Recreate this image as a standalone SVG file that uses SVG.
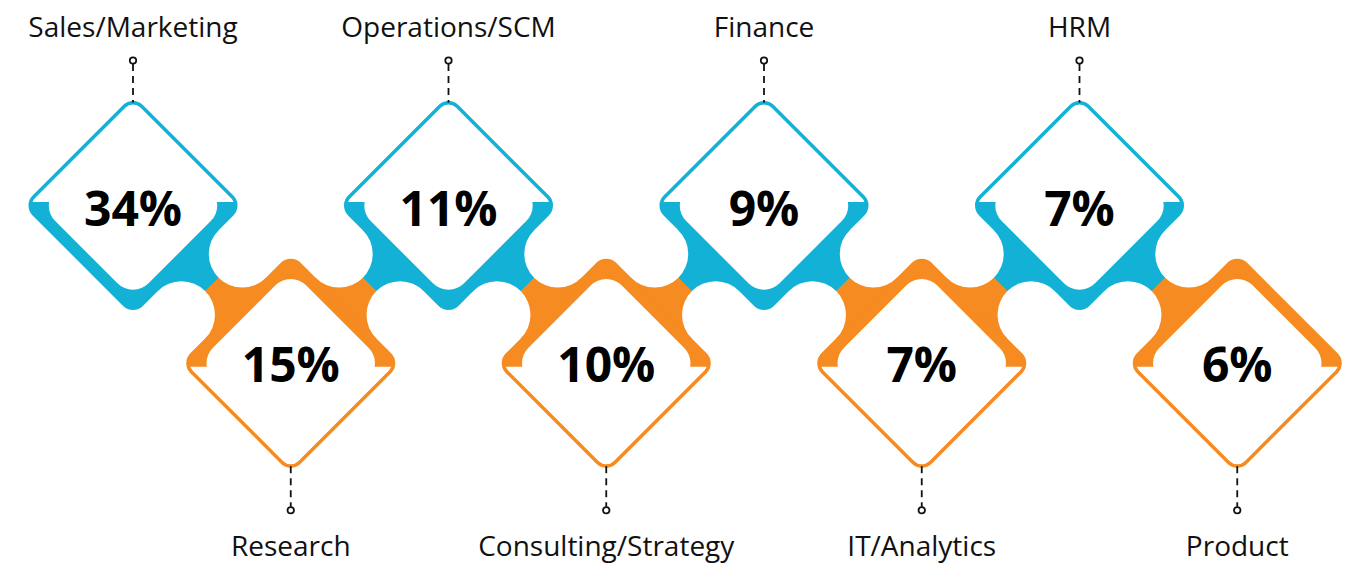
<svg xmlns="http://www.w3.org/2000/svg" xmlns:xlink="http://www.w3.org/1999/xlink" width="1351" height="564" viewBox="0 0 1351 564">
<style>
.blue{fill:#14B1D7}
.orange{fill:#F68B21}
.white{fill:#FFFFFF}
.pct{font-family:"Open Sans","Noto Sans","Liberation Sans",sans-serif;font-weight:700;font-size:48px;fill:#000;text-anchor:middle}
.lbl{font-family:"Open Sans","Noto Sans","Liberation Sans",sans-serif;font-size:28px;fill:#111;text-anchor:middle}
.dash{stroke:#111;stroke-width:1.8;stroke-dasharray:7 5;fill:none}
.pin{fill:#fff;stroke:#111;stroke-width:1.8}
</style>
<defs>
<clipPath id="clipUp" clipPathUnits="userSpaceOnUse"><rect x="-200" y="-200" width="400" height="196.5"/></clipPath>
<clipPath id="clipDown" clipPathUnits="userSpaceOnUse"><rect x="-200" y="3.5" width="400" height="200"/></clipPath>
<rect id="outerSq" transform="rotate(45)" x="-78" y="-78" width="156" height="156" rx="14"/>
<rect id="thinSq" transform="rotate(45)" x="-74.5" y="-74.5" width="149" height="149" rx="10.5"/>
<rect id="thickSq" transform="rotate(45)" x="-66" y="-66" width="132" height="132" rx="22"/>
<path id="neckL" d="M-41.55,-43.05 L-33.55,-43.05 A33.55 33.55 0 0 0 0,-9.5 L0,9.5 A33.55 33.55 0 0 0 -33.55,43.05 L-41.55,43.05 Z"/>
<path id="neckR" d="M41.55,-43.05 L33.55,-43.05 A33.55 33.55 0 0 1 0,-9.5 L-0.6,-9.5 L-0.6,9.5 L0,9.5 A33.55 33.55 0 0 1 33.55,43.05 L41.55,43.05 Z"/>
</defs>
<rect width="1351" height="564" fill="#FFFFFF"/>
<g id="connectors">
<use href="#neckR" class="orange" transform="translate(211.875,284.375) rotate(45)"/>
<use href="#neckL" class="blue" transform="translate(211.875,284.375) rotate(45)"/>
<use href="#neckR" class="blue" transform="translate(369.625,284.375) rotate(-45)"/>
<use href="#neckL" class="orange" transform="translate(369.625,284.375) rotate(-45)"/>
<use href="#neckR" class="orange" transform="translate(527.375,284.375) rotate(45)"/>
<use href="#neckL" class="blue" transform="translate(527.375,284.375) rotate(45)"/>
<use href="#neckR" class="blue" transform="translate(685.125,284.375) rotate(-45)"/>
<use href="#neckL" class="orange" transform="translate(685.125,284.375) rotate(-45)"/>
<use href="#neckR" class="orange" transform="translate(842.875,284.375) rotate(45)"/>
<use href="#neckL" class="blue" transform="translate(842.875,284.375) rotate(45)"/>
<use href="#neckR" class="blue" transform="translate(1000.625,284.375) rotate(-45)"/>
<use href="#neckL" class="orange" transform="translate(1000.625,284.375) rotate(-45)"/>
<use href="#neckR" class="orange" transform="translate(1158.375,284.375) rotate(45)"/>
<use href="#neckL" class="blue" transform="translate(1158.375,284.375) rotate(45)"/>
</g>
<g id="node-sales-marketing" transform="translate(133,205.5)">
<use href="#outerSq" class="blue"/>
<g clip-path="url(#clipUp)"><use href="#thinSq" class="white"/></g>
<use href="#thickSq" class="white"/>
<text class="pct" x="0" y="20">34%</text>
<line class="dash" x1="0" y1="-141.5" x2="0" y2="-103"/>
<circle class="pin" cx="0" cy="-145" r="3.2"/>
<text class="lbl" x="0" y="-168.5">Sales/Marketing</text>
</g>
<g id="node-research" transform="translate(290.75,363.25)">
<use href="#outerSq" class="orange"/>
<g clip-path="url(#clipDown)"><use href="#thinSq" class="white"/></g>
<use href="#thickSq" class="white"/>
<text class="pct" x="0" y="18.5">15%</text>
<line class="dash" x1="0" y1="103" x2="0" y2="143.5"/>
<circle class="pin" cx="0" cy="147" r="3.2"/>
<text class="lbl" x="0" y="192.5">Research</text>
</g>
<g id="node-operations-scm" transform="translate(448.5,205.5)">
<use href="#outerSq" class="blue"/>
<g clip-path="url(#clipUp)"><use href="#thinSq" class="white"/></g>
<use href="#thickSq" class="white"/>
<text class="pct" x="0" y="20">11%</text>
<line class="dash" x1="0" y1="-141.5" x2="0" y2="-103"/>
<circle class="pin" cx="0" cy="-145" r="3.2"/>
<text class="lbl" x="0" y="-168.5">Operations/SCM</text>
</g>
<g id="node-consulting-strategy" transform="translate(606.25,363.25)">
<use href="#outerSq" class="orange"/>
<g clip-path="url(#clipDown)"><use href="#thinSq" class="white"/></g>
<use href="#thickSq" class="white"/>
<text class="pct" x="0" y="18.5">10%</text>
<line class="dash" x1="0" y1="103" x2="0" y2="143.5"/>
<circle class="pin" cx="0" cy="147" r="3.2"/>
<text class="lbl" x="0" y="192.5">Consulting/Strategy</text>
</g>
<g id="node-finance" transform="translate(764,205.5)">
<use href="#outerSq" class="blue"/>
<g clip-path="url(#clipUp)"><use href="#thinSq" class="white"/></g>
<use href="#thickSq" class="white"/>
<text class="pct" x="0" y="20">9%</text>
<line class="dash" x1="0" y1="-141.5" x2="0" y2="-103"/>
<circle class="pin" cx="0" cy="-145" r="3.2"/>
<text class="lbl" x="0" y="-168.5">Finance</text>
</g>
<g id="node-it-analytics" transform="translate(921.75,363.25)">
<use href="#outerSq" class="orange"/>
<g clip-path="url(#clipDown)"><use href="#thinSq" class="white"/></g>
<use href="#thickSq" class="white"/>
<text class="pct" x="0" y="18.5">7%</text>
<line class="dash" x1="0" y1="103" x2="0" y2="143.5"/>
<circle class="pin" cx="0" cy="147" r="3.2"/>
<text class="lbl" x="0" y="192.5">IT/Analytics</text>
</g>
<g id="node-hrm" transform="translate(1079.5,205.5)">
<use href="#outerSq" class="blue"/>
<g clip-path="url(#clipUp)"><use href="#thinSq" class="white"/></g>
<use href="#thickSq" class="white"/>
<text class="pct" x="0" y="20">7%</text>
<line class="dash" x1="0" y1="-141.5" x2="0" y2="-103"/>
<circle class="pin" cx="0" cy="-145" r="3.2"/>
<text class="lbl" x="0" y="-168.5">HRM</text>
</g>
<g id="node-product" transform="translate(1237.25,363.25)">
<use href="#outerSq" class="orange"/>
<g clip-path="url(#clipDown)"><use href="#thinSq" class="white"/></g>
<use href="#thickSq" class="white"/>
<text class="pct" x="0" y="18.5">6%</text>
<line class="dash" x1="0" y1="103" x2="0" y2="143.5"/>
<circle class="pin" cx="0" cy="147" r="3.2"/>
<text class="lbl" x="0" y="192.5">Product</text>
</g>
</svg>
